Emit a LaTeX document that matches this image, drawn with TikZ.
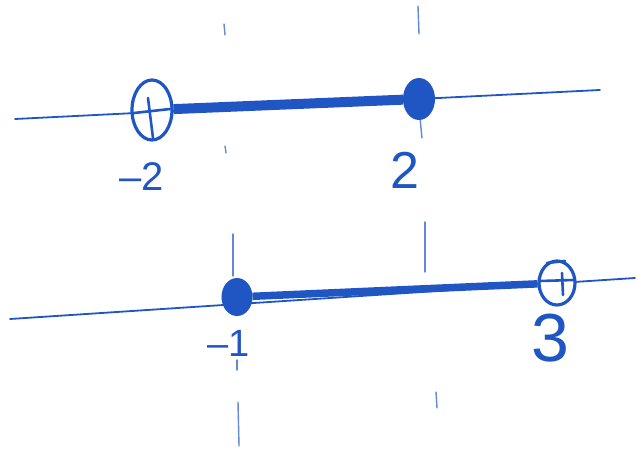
\documentclass[tikz,border=0pt]{standalone}
\usepackage{fontspec}
\setmainfont{Liberation Sans}
\usetikzlibrary{shapes.geometric}
\definecolor{pen}{RGB}{32,86,196}
\begin{document}
\begin{tikzpicture}[x=1pt,y=-1pt,
  axis/.style={draw=pen, line width=1.8pt, line cap=round},
  tickmark/.style={draw=pen!70, line width=1.4pt, line cap=round},
  interval/.style={draw=pen, line width=10pt},
  opendot/.style={ellipse, draw=pen, line width=3.2pt, fill=white, inner sep=0pt},
  closeddot/.style={ellipse, draw=pen, fill=pen, line width=2pt, inner sep=0pt},
  crossline/.style={draw=pen, line width=2.6pt, line cap=round},
  numlabel/.style={text=pen, inner sep=0pt}]
\useasboundingbox (0,0) rectangle (638,449);
% ---- top number line ----
\coordinate (a1) at (15,119);
\coordinate (a2) at (600,90);
\draw[axis] (a1) -- (a2);
\coordinate (t1a) at (224,24); \coordinate (t1b) at (225,35);
\draw[tickmark] (t1a) -- (t1b);
\coordinate (t2a) at (225,146); \coordinate (t2b) at (226,153);
\draw[tickmark] (t2a) -- (t2b);
\coordinate (t3a) at (418,6); \coordinate (t3b) at (419,34);
\draw[tickmark] (t3a) -- (t3b);
\coordinate (t4a) at (420,118); \coordinate (t4b) at (422,138);
\draw[tickmark] (t4a) -- (t4b);
\node[opendot, minimum width=40pt, minimum height=60pt] (o1) at (152,110) {};
\node[closeddot, minimum width=30pt, minimum height=40pt] (c1) at (419,99) {};
\draw[interval] (o1) -- (c1);
\draw[crossline] ([shift={(-4,-12)}]o1.center) -- ([shift={(1,28)}]o1.center);
\draw[crossline] ([shift={(-18,3)}]o1.center) -- ([shift={(18,-1)}]o1.center);
\node[numlabel, font=\fontsize{40}{40}\selectfont] (l1) at (142,177) {–2};
\node[numlabel, font=\fontsize{52}{52}\selectfont] (l2) at (405,170) {2};
% ---- bottom number line ----
\coordinate (b1) at (10,319);
\coordinate (b2) at (635,278);
\draw[axis] (b1) -- (b2);
\coordinate (s1a) at (233,234); \coordinate (s1b) at (233,276);
\draw[tickmark] (s1a) -- (s1b);
\coordinate (s2a) at (237,360); \coordinate (s2b) at (237,370);
\draw[tickmark] (s2a) -- (s2b);
\coordinate (s3a) at (238,402); \coordinate (s3b) at (239,446);
\draw[tickmark] (s3a) -- (s3b);
\coordinate (s4a) at (425,222); \coordinate (s4b) at (425,272);
\draw[tickmark] (s4a) -- (s4b);
\coordinate (s5a) at (436,392); \coordinate (s5b) at (437,408);
\draw[tickmark] (s5a) -- (s5b);
\node[closeddot, minimum width=29pt, minimum height=36pt] (c2) at (237,297) {};
\node[opendot, minimum width=36pt, minimum height=44pt] (o2) at (557,283) {};
\draw[interval, line width=7.5pt] (c2) -- (o2);
\draw[crossline] ([shift={(5,-10)}]o2.center) -- ([shift={(6,12)}]o2.center);
\draw[crossline] ([shift={(-17,-2)}]o2.center) -- ([shift={(17,-3)}]o2.center);
\draw[crossline] ([shift={(-10,-20)}]o2.center) -- ([shift={(8,-22)}]o2.center);
\node[numlabel, font=\fontsize{38}{38}\selectfont] (l3) at (229,343) {–1};
\node[numlabel, font=\fontsize{68}{68}\selectfont] (l4) at (550,338) {3};
\end{tikzpicture}
\end{document}
